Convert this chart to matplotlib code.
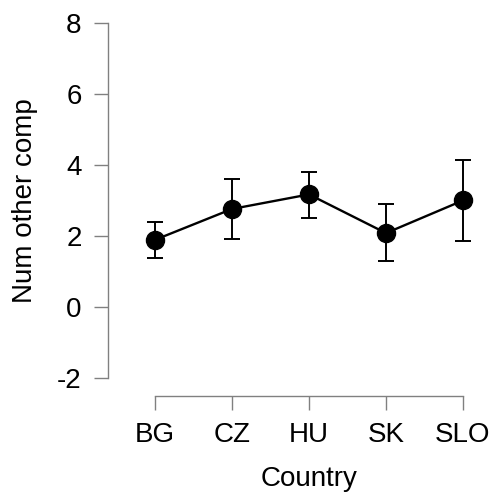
import matplotlib
matplotlib.use("Agg")
import matplotlib.pyplot as plt

countries = ["BG", "CZ", "HU", "SK", "SLO"]
means = [1.89, 2.76, 3.17, 2.08, 3.00]
upper = [2.40, 3.61, 3.81, 2.91, 4.15]
lower = [1.38, 1.90, 2.51, 1.28, 1.85]
yticks = [-2, 0, 2, 4, 6, 8]

plt.rcParams['font.family'] = ['Liberation Sans', 'DejaVu Sans']

fig = plt.figure(figsize=(4.93, 5.0), dpi=100)
W, H = 493, 500
ax = fig.add_axes([108 / W, (500 - 396) / H, 385 / W, (396 - 23) / H])

x = list(range(1, len(countries) + 1))
yerr = [[m - l for m, l in zip(means, lower)], [u - m for m, u in zip(means, upper)]]
ax.errorbar(x, means, yerr=yerr, fmt='none', ecolor='black', elinewidth=1.4,
            capsize=6, capthick=1.4, zorder=2)
ax.plot(x, means, color='black', lw=1.7, marker='o', markersize=13, zorder=3)

xlim = (1 - 47 / 77, 1 + (493 - 155) / 77)
ylim = (-2.51, 8.0)
ax.set_xlim(*xlim)
ax.set_ylim(*ylim)

for s in ['top', 'right']:
    ax.spines[s].set_visible(False)
gray = '#808080'
ax.spines['left'].set_color(gray)
ax.spines['bottom'].set_color(gray)
ax.spines['left'].set_bounds(yticks[0], yticks[-1])
ax.spines['bottom'].set_bounds(x[0], x[-1])
ax.spines['left'].set_linewidth(1.0)
ax.spines['bottom'].set_linewidth(1.0)

ax.set_yticks(yticks)
ax.set_yticklabels([str(t) for t in yticks])
ax.set_xticks(x)
ax.set_xticklabels(countries)
ax.tick_params(axis='both', length=10, width=1.0, color=gray, labelsize=20, pad=9)

ax.set_xlabel("Country", fontsize=20, labelpad=13)
ax.set_ylabel("Num other comp", fontsize=20, labelpad=14)
xmid = (x[0] + x[-1]) / 2
ymid = (yticks[0] + yticks[-1]) / 2
ax.xaxis.label.set_x((xmid - xlim[0]) / (xlim[1] - xlim[0]))
ax.yaxis.label.set_y((ymid - ylim[0]) / (ylim[1] - ylim[0]))

fig.savefig("out.png", dpi=100)
